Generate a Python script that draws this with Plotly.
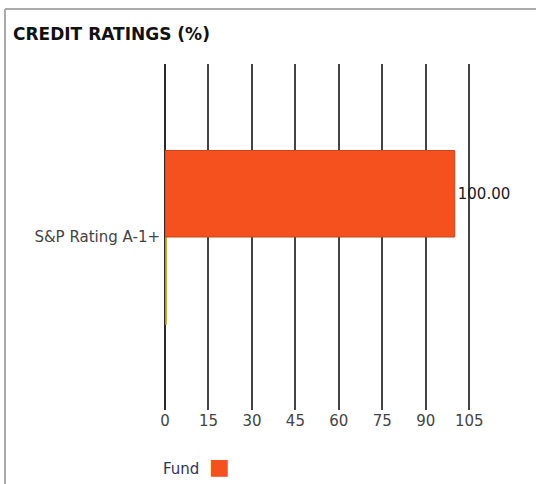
import plotly.graph_objects as go

categories = ["S&P Rating A-1+"]
fund_values = [100.00]
other_values = [0.2]
tick_vals = [0, 15, 30, 45, 60, 75, 90, 105]
tick_text = ["0", "15", "30", "45", "60", "75", "90", "105"]

ORANGE = "#F4511E"
FONT = "DejaVu Sans"
PW = 306.0  # plot width px
PH = 346.0  # plot height px

fig = go.Figure()
fig.add_trace(go.Bar(
    y=categories, x=other_values, orientation="h",
    marker=dict(color="#B8A000", line=dict(color="#B8A000", width=2.5)),
    showlegend=False, hoverinfo="skip",
))
fig.add_trace(go.Bar(
    y=categories, x=fund_values, orientation="h", name="Fund",
    marker=dict(color=ORANGE, line=dict(color="#C8441A", width=1)),
    text=[f"{v:.2f}" for v in fund_values], textposition="outside",
    textfont=dict(family=FONT, size=15, color="#1a1a1a"),
    cliponaxis=False, showlegend=False,
))

fig.update_layout(
    width=536, height=484,
    margin=dict(l=165, r=65, t=64, b=74),
    paper_bgcolor="white", plot_bgcolor="white",
    barmode="group", bargap=0.5, bargroupgap=0,
    showlegend=False,
    xaxis=dict(
        range=[0, 105.6], tickvals=tick_vals, ticktext=tick_text,
        showgrid=True, gridcolor="#444444", gridwidth=2,
        zeroline=True, zerolinecolor="#2a2a2a", zerolinewidth=2,
        showline=False, ticks="",
        tickfont=dict(family=FONT, size=15, color="#444444"),
        fixedrange=True,
    ),
    yaxis=dict(
        showgrid=False, zeroline=False, showline=False, ticks="",
        tickfont=dict(family=FONT, size=15, color="#444444"),
        ticklabelstandoff=4, fixedrange=True,
    ),
    shapes=[
        dict(type="line", xref="paper", yref="paper", x0=-160 / PW, x1=1.3,
             y0=1 + 55 / PH, y1=1 + 55 / PH, line=dict(color="#aaaaaa", width=2)),
        dict(type="line", xref="paper", yref="paper", x0=-160 / PW, x1=-160 / PW,
             y0=-0.3, y1=1 + 55 / PH, line=dict(color="#aaaaaa", width=2)),
    ],
    annotations=[
        dict(text="<b>CREDIT RATINGS (%)</b>", xref="paper", yref="paper",
             x=-154 / PW, y=1 + 30 / PH, xanchor="left", yanchor="middle",
             showarrow=False, font=dict(family=FONT, size=17, color="#111111")),
        dict(text="Fund  <span style='color:" + ORANGE + ";font-size:22px'>■</span>",
             xref="paper", yref="paper", x=-4 / PW, y=-56 / PH,
             xanchor="left", yanchor="middle", showarrow=False,
             font=dict(family=FONT, size=15, color="#333355")),
    ],
)

fig.write_html("out.html", config={"displayModeBar": False},
               post_script="document.body.style.margin='0';")
